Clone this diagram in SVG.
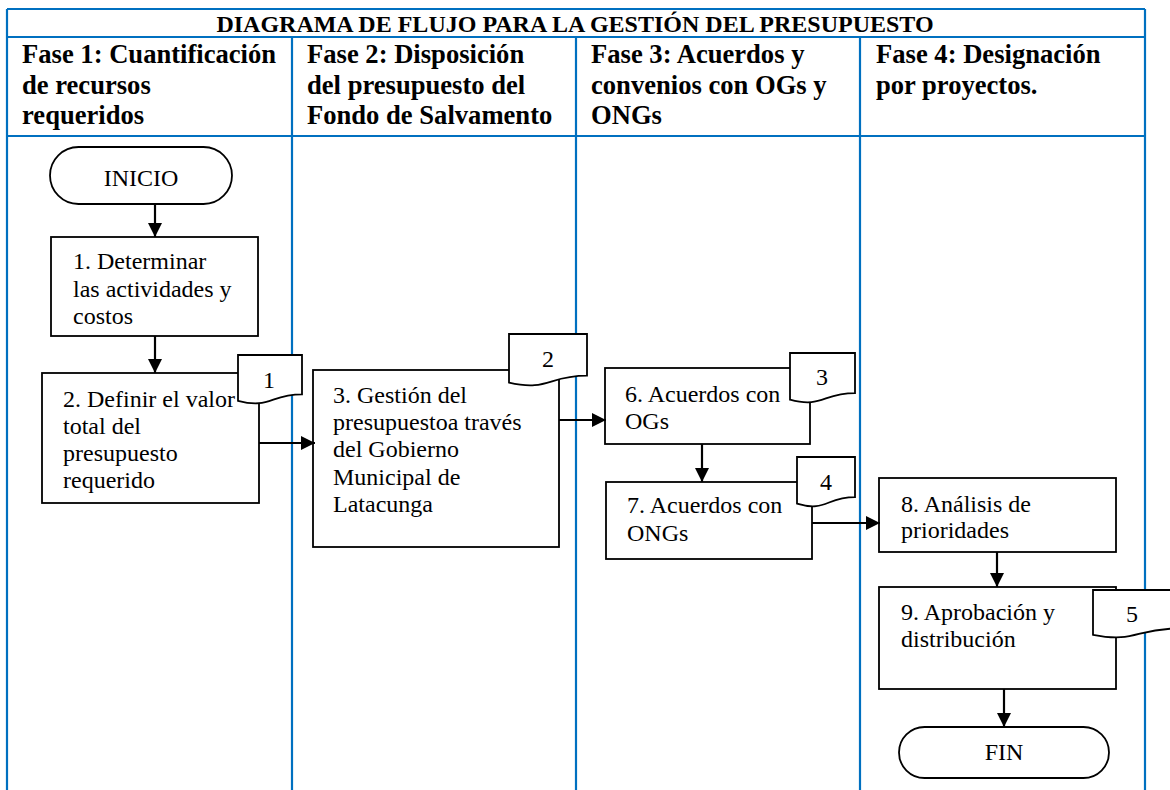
<svg xmlns="http://www.w3.org/2000/svg" width="1170" height="790" viewBox="0 0 1170 790">
<style>
.grid{stroke:#0070C0;stroke-width:2.2;fill:none}
.box{fill:#fff;stroke:#000;stroke-width:1.8}
.doc{fill:#fff;stroke:#000;stroke-width:1.8}
.t{font-family:"Liberation Serif","Times New Roman",serif;font-size:24px;fill:#000}
.h{font-family:"Liberation Serif","Times New Roman",serif;font-size:26.6px;font-weight:bold;fill:#000}
.ti{font-family:"Liberation Serif","Times New Roman",serif;font-size:24px;font-weight:bold;fill:#000}
.c{text-anchor:middle}
.conn{stroke:#000;stroke-width:2.2;fill:none}
</style>
<defs>
<marker id="arr" markerUnits="userSpaceOnUse" markerWidth="16" markerHeight="16" refX="14" refY="7" orient="auto">
<path d="M0,0 L14,7 L0,14 Z" fill="#000"/>
</marker>
</defs>
<rect width="1170" height="790" fill="#fff"/>
<g id="table">
<path class="grid" d="M7,9 H1145 M7,37 H1145 M7,136 H1145 M7,9 V790 M292,37 V790 M576,37 V790 M860,37 V790 M1145,9 V790"/>
<text class="ti c" x="575" y="32">DIAGRAMA DE FLUJO PARA LA GESTIÓN DEL PRESUPUESTO</text>
<text class="h" x="22" y="63">Fase 1: Cuantificación</text>
<text class="h" x="22" y="94">de recursos</text>
<text class="h" x="22" y="124">requeridos</text>
<text class="h" x="307" y="63">Fase 2: Disposición</text>
<text class="h" x="307" y="94">del presupuesto del</text>
<text class="h" x="307" y="124">Fondo de Salvamento</text>
<text class="h" x="591" y="63">Fase 3: Acuerdos y</text>
<text class="h" x="591" y="94">convenios con OGs y</text>
<text class="h" x="591" y="124">ONGs</text>
<text class="h" x="876" y="63">Fase 4: Designación</text>
<text class="h" x="876" y="94">por proyectos.</text>
</g>
<g id="inicio">
<rect class="box" x="50" y="147" width="182" height="57" rx="28.5"/>
<text class="t c" x="141" y="186">INICIO</text>
</g>
<g id="n1">
<rect class="box" x="51" y="237" width="207" height="99"/>
<text class="t" x="73" y="269">1. Determinar</text>
<text class="t" x="73" y="297">las actividades y</text>
<text class="t" x="73" y="324">costos</text>
</g>
<g id="n2">
<rect class="box" x="42" y="373" width="217" height="130"/>
<text class="t" x="63" y="407">2. Definir el valor</text>
<text class="t" x="63" y="434">total del</text>
<text class="t" x="63" y="461">presupuesto</text>
<text class="t" x="63" y="488">requerido</text>
</g>
<g id="n3">
<rect class="box" x="313" y="370" width="246" height="177"/>
<text class="t" x="333" y="403">3. Gestión del</text>
<text class="t" x="333" y="430">presupuestoa través</text>
<text class="t" x="333" y="457">del Gobierno</text>
<text class="t" x="333" y="485">Municipal de</text>
<text class="t" x="333" y="512">Latacunga</text>
</g>
<g id="n6">
<rect class="box" x="605" y="368" width="205" height="76"/>
<text class="t" x="625" y="402">6. Acuerdos con</text>
<text class="t" x="625" y="429">OGs</text>
</g>
<g id="n7">
<rect class="box" x="606" y="482" width="206" height="77"/>
<text class="t" x="627" y="513">7. Acuerdos con</text>
<text class="t" x="627" y="541">ONGs</text>
</g>
<g id="n8">
<rect class="box" x="879" y="478" width="237" height="74"/>
<text class="t" x="901" y="512">8. Análisis de</text>
<text class="t" x="901" y="538">prioridades</text>
</g>
<g id="n9">
<rect class="box" x="879" y="587" width="237" height="102"/>
<text class="t" x="901" y="620">9. Aprobación y</text>
<text class="t" x="901" y="647">distribución</text>
</g>
<g id="fin">
<rect class="box" x="899" y="727" width="210" height="51" rx="25.5"/>
<text class="t c" x="1004" y="760">FIN</text>
</g>
<g id="doc1">
<path class="doc" d="M238,355 H302 V394.3 C270,394.3 270,409.2 238,400.8 Z"/>
<text class="t c" x="269" y="388">1</text>
</g>
<g id="doc2">
<path class="doc" d="M509,334 H587 V375.7 C548,375.7 548,391.6 509,382.6 Z"/>
<text class="t c" x="548" y="367">2</text>
</g>
<g id="doc3">
<path class="doc" d="M790,353 H855 V393.1 C822.5,393.1 822.5,408.4 790,399.7 Z"/>
<text class="t c" x="822" y="385">3</text>
</g>
<g id="doc4">
<path class="doc" d="M797,457 H855 V497.1 C826,497.1 826,512.4 797,503.7 Z"/>
<text class="t c" x="826" y="490">4</text>
</g>
<g id="doc5">
<path class="doc" d="M1093,590 H1178 V628.5 C1135.5,628.5 1135.5,643.1 1093,634.8 Z"/>
<text class="t c" x="1132" y="622">5</text>
</g>
<g id="connectors">
<line class="conn" x1="155" y1="204" x2="155" y2="237" marker-end="url(#arr)"/>
<line class="conn" x1="155" y1="336" x2="155" y2="373" marker-end="url(#arr)"/>
<line class="conn" x1="259" y1="443" x2="315" y2="443" marker-end="url(#arr)"/>
<line class="conn" x1="559" y1="420" x2="606" y2="420" marker-end="url(#arr)"/>
<line class="conn" x1="702" y1="444" x2="702" y2="482" marker-end="url(#arr)"/>
<line class="conn" x1="812" y1="523" x2="880" y2="523" marker-end="url(#arr)"/>
<line class="conn" x1="997" y1="552" x2="997" y2="587" marker-end="url(#arr)"/>
<line class="conn" x1="1004" y1="689" x2="1004" y2="727" marker-end="url(#arr)"/>
</g>
</svg>
